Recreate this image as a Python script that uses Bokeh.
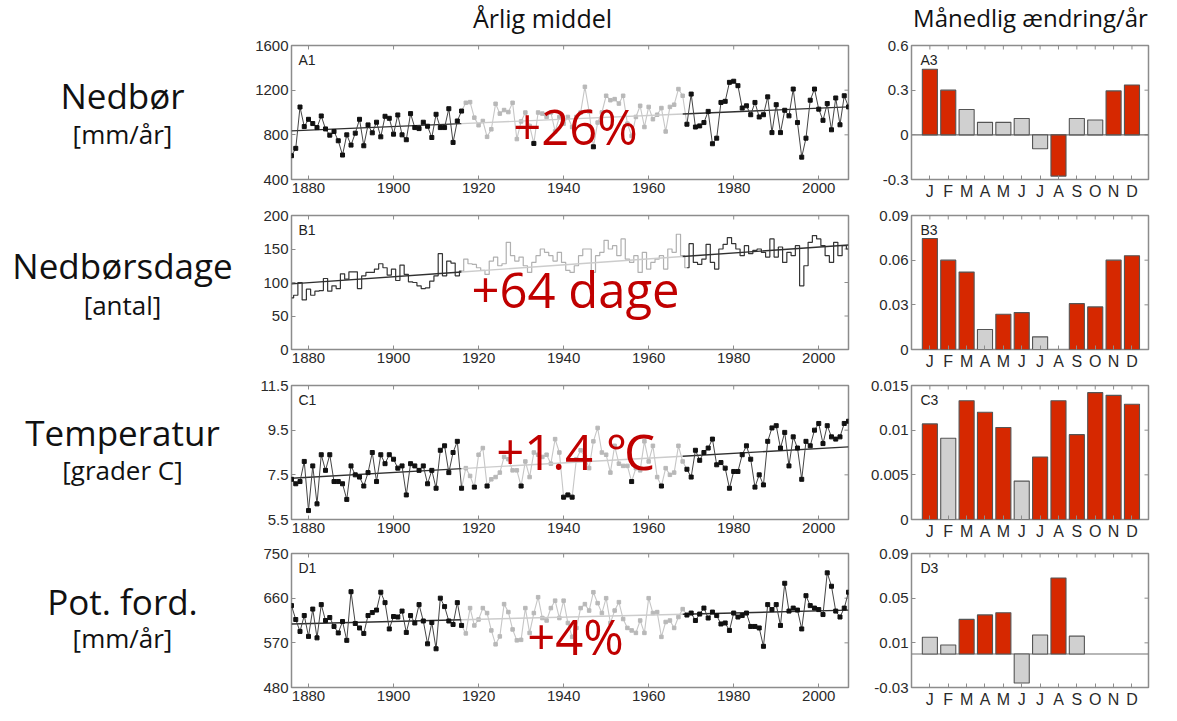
import math
from bokeh.plotting import figure
from bokeh.layouts import column, row
from bokeh.models import Label, FixedTicker, Range1d, ColumnDataSource
from bokeh.embed import file_html
from bokeh.resources import INLINE
from bokeh.core.properties import value

# ---------------- data ----------------
YEARS = list(range(1876, 2008))
END_FIRST = 1916   # last year of first (black) period
END_GREY = 1968    # last year of grey period

# A1 precipitation, mm/yr
PRECIP = [613, 679, 1049, 874, 939, 901, 865, 969, 853, 797, 830, 747, 619, 800, 708, 815, 939, 702, 889, 818,
          913, 782, 966, 948, 806, 978, 800, 756, 990, 865, 856, 913, 877, 776, 984, 865, 865, 1034, 732, 924, 1013,
          1087, 1093, 954, 886, 924, 782, 850, 1078, 990, 1022, 1004, 1087, 762, 920, 1000, 880, 723, 1000, 990, 960,
          1000, 830, 960, 900, 960, 870, 960, 1000, 1230, 1010, 693, 910, 1000, 1150, 1110, 1120, 1080, 1150, 900, 790,
          960, 1060, 870, 1050, 940, 980, 1040, 830, 1050, 1070, 1210, 1150,
          895, 1165, 870, 880, 910, 1010, 720, 770, 1090, 1100, 1270, 1280, 1240, 1040, 1060, 980, 1090, 960, 980, 1140,
          820, 1070, 820, 1020, 970, 1210, 910, 600, 770, 1110, 1210, 1030, 930, 1080, 845, 1130, 890, 1150, 1050]
# B1 precipitation days
RAIN_DAYS = [77, 81, 100, 74, 90, 81, 87, 88, 106, 87, 95, 91, 113, 105, 116, 116, 91, 110, 115, 115,
             120, 128, 122, 111, 120, 103, 126, 112, 101, 100, 95, 91, 92, 102, 110, 143, 110, 132, 129, 110, 117,
             135, 128, 127, 122, 118, 112, 132, 138, 125, 128, 160, 140, 132, 138, 125, 115, 130, 140, 150, 145,
             140, 132, 145, 130, 118, 115, 125, 140, 150, 150, 115, 140, 145, 163, 150, 155, 140, 165, 135, 130,
             140, 115, 145, 120, 130, 135, 140, 120, 150, 145, 172, 140,
             122, 158, 130, 127, 135, 157, 130, 120, 150, 157, 167, 158, 150, 140, 155, 143, 148, 150, 145, 138,
             165, 138, 153, 130, 145, 140, 155, 95, 125, 160, 170, 165, 155, 140, 130, 160, 140, 155, 150]
# C1 temperature, deg C
TEMP = [7.3, 7.1, 7.2, 8.1, 5.9, 7.9, 6.2, 8.4, 7.7, 8.4, 7.2, 7.2, 7.1, 6.4, 7.9, 7.5, 7.4, 7.0, 7.6, 8.5,
        7.2, 8.4, 8.0, 8.4, 8.2, 7.8, 7.9, 6.6, 8.0, 7.9, 7.7, 7.9, 7.1, 7.7, 6.9, 8.6, 8.8, 7.6, 8.5, 9.0, 6.9,
        7.8, 7.45, 6.95, 8.4, 8.7, 7.0, 7.3, 7.4, 7.6, 8.3, 8.2, 7.7, 7.7, 7.0, 8.1, 7.4, 8.5, 8.4, 8.3, 8.4,
        8.0, 9.1, 8.5, 6.5, 6.6, 6.5, 8.2, 8.6, 8.3, 7.8, 9.0, 9.6, 8.5, 8.4, 7.6, 8.8, 8.0, 7.9, 7.9, 7.2,
        7.8, 7.7, 9.0, 8.1, 8.8, 7.4, 7.0, 7.8, 7.5, 7.6, 8.8, 8.1,
        7.75, 7.4, 8.6, 8.15, 8.5, 8.7, 9.1, 7.95, 8.05, 7.8, 6.9, 7.65, 7.65, 8.4, 8.8, 8.2, 6.95, 7.5, 7.05, 9.0,
        9.6, 9.7, 8.7, 9.4, 7.9, 9.2, 8.7, 7.3, 9.0, 8.8, 9.5, 9.8, 8.9, 9.7, 9.2, 9.1, 9.2, 9.8, 9.9]
# D1 potential evaporation, mm/yr
POT_EVAP = [645, 617, 593, 625, 583, 638, 580, 647, 615, 621, 603, 590, 613, 575, 673, 609, 600, 589, 625, 631,
            636, 672, 651, 598, 623, 622, 634, 591, 625, 610, 647, 614, 568, 611, 558, 660, 643, 614, 607, 651, 605,
            589, 640, 605, 617, 640, 630, 595, 567, 583, 648, 632, 597, 575, 576, 640, 590, 630, 662, 620, 615,
            640, 655, 620, 655, 610, 582, 600, 640, 648, 635, 672, 650, 630, 660, 610, 635, 652, 618, 600, 595,
            590, 615, 590, 660, 630, 632, 582, 612, 615, 600, 622, 638,
            626, 630, 615, 628, 640, 620, 632, 625, 608, 610, 595, 630, 622, 625, 630, 603, 603, 600, 563, 647,
            637, 647, 605, 690, 634, 640, 636, 598, 665, 645, 640, 637, 627, 711, 684, 634, 622, 640, 672]

# extreme years drawn black inside the grey period
HIGHLIGHT_A = [1933, 1947]
HIGHLIGHT_B = []
HIGHLIGHT_C = [1919, 1922, 1930, 1940, 1941, 1942, 1956, 1963]
HIGHLIGHT_D = []

# linear trend (value at 1876, value at 2007)
TREND_A = [835, 1050]
TREND_B = [98, 156]
TREND_C = [7.35, 8.75]
TREND_D = [608, 636]

CHANGE_TEXT = ["+26%", "+64 dage", "+1.4 \u2103", "+4%"]

NAN = float("nan")
MONTHS = ["J", "F", "M", "A", "M", "J", "J", "A", "S", "O", "N", "D"]
MONTH_POS = [1, 2, 3, 4, 5, 6, 7, 8, 9, 10, 11, 12]
MON_A = [0.44, 0.30, 0.17, 0.084, 0.084, 0.11, -0.093, -0.277, 0.11, 0.10, 0.295, 0.335]
SIG_A = [1, 1, 0, 0, 0, 0, 0, 1, 0, 0, 1, 1]
MON_B = [0.0746, 0.060, 0.052, 0.0134, 0.0237, 0.0248, 0.0085, NAN, 0.0308, 0.0286, 0.060, 0.063]
SIG_B = [1, 1, 1, 0, 1, 1, 0, 0, 1, 1, 1, 1]
MON_C = [0.0107, 0.0091, 0.0133, 0.0120, 0.0103, 0.0043, 0.0070, 0.0133, 0.0095, 0.0142, 0.0139, 0.0129]
SIG_C = [1, 0, 1, 1, 1, 0, 1, 1, 1, 1, 1, 1]
MON_D = [0.015, 0.008, 0.031, 0.035, 0.037, -0.026, 0.017, 0.068, 0.016, NAN, NAN, NAN]
SIG_D = [0, 0, 1, 1, 1, 0, 0, 1, 0, 0, 0, 0]

ROW_NAMES = ["Nedbør", "Nedbørsdage", "Temperatur", "Pot. ford."]
ROW_UNITS = ["[mm/år]", "[antal]", "[grader C]", "[mm/år]"]
COL_TITLES = ["Årlig middel", "Månedlig ændring/år"]
TS_TAGS = ["A1", "B1", "C1", "D1"]
MON_TAGS = ["A3", "B3", "C3", "D3"]

YEAR_TICKS = [1880, 1900, 1920, 1940, 1960, 1980, 2000]
TS_YTICKS = [[400, 800, 1200, 1600], [0, 50, 100, 150, 200], [5.5, 7.5, 9.5, 11.5], [480, 570, 660, 750]]
TS_YLABELS = [["400", "800", "1200", "1600"], ["0", "50", "100", "150", "200"],
              ["5.5", "7.5", "9.5", "11.5"], ["480", "570", "660", "750"]]
MON_YTICKS = [[-0.3, 0.0, 0.3, 0.6], [0.0, 0.03, 0.06, 0.09], [0.0, 0.005, 0.01, 0.015], [-0.03, 0.01, 0.05, 0.09]]
MON_YLABELS = [["-0.3", "0", "0.3", "0.6"], ["0", "0.03", "0.06", "0.09"],
               ["0", "0.005", "0.01", "0.015"], ["-0.03", "0.01", "0.05", "0.09"]]

# ---------------- style ----------------
FRAME = "#8c8c8c"
TICK_FONT = "Liberation Sans"
LABEL_FONT = "Open Sans"
RED_TEXT = "#C00000"
BAR_RED = "#D62800"
BAR_GREY = "#D0D0D0"

TITLE_W = 1161
LABEL_W = 240
TITLE_H = 35
ROW_H = 170


def style_axis(ax, ticker, labels, size="15px"):
    ax.ticker = FixedTicker(ticks=ticker)
    ax.axis_line_color = None
    ax.major_tick_in = 4
    ax.major_tick_out = 0
    ax.major_tick_line_color = FRAME
    ax.minor_tick_line_color = None
    ax.major_label_text_font = TICK_FONT
    ax.major_label_text_font_size = size
    ax.major_label_text_color = "#2a2a2a"
    ax.major_label_standoff = 3
    ax.major_label_overrides = dict(zip(ticker, labels))


def frame_ticks(p, xt, yt, xmax, ymax):
    # inward tick marks on the top and right frame edges (half of each dash is clipped by the frame)
    p.scatter(x=xt, y=[ymax] * len(xt), marker="dash", size=8, angle=math.pi / 2,
              line_color=FRAME, line_width=1)
    p.scatter(x=[xmax] * len(yt), y=yt, marker="dash", size=8, line_color=FRAME, line_width=1)


def make_ts(i, vals, hl, trend, step, last):
    yt = TS_YTICKS[i]
    ylo, yhi = yt[0], yt[-1]
    p = figure(frame_width=557, frame_height=134, x_range=Range1d(1876, 2007), y_range=Range1d(ylo, yhi),
               min_border_left=51, min_border_right=10, min_border_top=8 if last else 10,
               min_border_bottom=18 if last else 26,
               output_backend="svg", toolbar_location=None,
               outline_line_color=FRAME, outline_line_width=1.5)
    p.grid.visible = False
    style_axis(p.xaxis[0], YEAR_TICKS, [str(y) for y in YEAR_TICKS])
    style_axis(p.yaxis[0], yt, TS_YLABELS[i])
    frame_ticks(p, YEAR_TICKS, yt, 2007, yhi)

    i1 = YEARS.index(END_FIRST)
    i2 = YEARS.index(END_GREY) + 1
    x1, y1 = YEARS[:i1 + 1], vals[:i1 + 1]
    xg, yg = YEARS[i1:i2 + 1], vals[i1:i2 + 1]
    x2, y2 = YEARS[i2:], vals[i2:]

    def tv(yr):
        return trend[0] + (trend[1] - trend[0]) * (yr - YEARS[0]) / (YEARS[-1] - YEARS[0])

    if step:
        p.step(xg, yg, mode="center", line_color="#b0b0b0", line_width=1.2)
        p.step(x1, y1, mode="center", line_color="#353535", line_width=1.2)
        p.step(x2, y2, mode="center", line_color="#353535", line_width=1.2)
    else:
        p.line(xg, yg, line_color="#c6c6c6", line_width=1.1)
        p.scatter(YEARS[i1 + 1:i2], vals[i1 + 1:i2], marker="square", size=3.5,
                  fill_color="#b8b8b8", line_color="#b8b8b8")

    p.line([YEARS[0], END_FIRST], [tv(YEARS[0]), tv(END_FIRST)], line_color="#303030", line_width=1.4)
    p.line([END_FIRST, END_GREY], [tv(END_FIRST), tv(END_GREY)], line_color="#cccccc", line_width=1.4)
    p.line([END_GREY, YEARS[-1]], [tv(END_GREY), tv(YEARS[-1])], line_color="#303030", line_width=1.4)

    if not step:
        for xs, ys in ((x1, y1), (x2, y2)):
            p.line(xs, ys, line_color="#454545", line_width=1.0)
            p.scatter(xs, ys, marker="square", size=4, fill_color="#111111", line_color="#111111")
        hy = [vals[YEARS.index(y)] for y in hl]
        for a, b in zip(hl[:-1], hl[1:]):
            if b - a == 1:
                p.line([a, b], [vals[YEARS.index(a)], vals[YEARS.index(b)]], line_color="#454545", line_width=1.0)
        if hl:
            p.scatter(hl, hy, marker="square", size=4, fill_color="#111111", line_color="#111111")

    p.add_layout(Label(x=YEARS[0], y=yhi, x_offset=7, y_offset=-6, text=TS_TAGS[i], text_baseline="top",
                       text_font=TICK_FONT, text_font_size="14px", text_color="#222222"))
    fracs = [0.40, 0.45, 0.51, 0.385]
    p.add_layout(Label(x=1942.8, y=ylo + fracs[i] * (yhi - ylo), text=CHANGE_TEXT[i], text_align="center",
                       text_baseline="middle", text_font=LABEL_FONT, text_font_size="49px",
                       text_color=RED_TEXT))
    return p


def make_bars(i, vals, sig, last):
    yt = MON_YTICKS[i]
    ylo, yhi = yt[0], yt[-1]
    p = figure(frame_width=237, frame_height=134, x_range=Range1d(0, 12.9), y_range=Range1d(ylo, yhi),
               min_border_left=53, min_border_right=5, min_border_top=8 if last else 10,
               min_border_bottom=18 if last else 26,
               output_backend="svg", toolbar_location=None,
               outline_line_color=FRAME, outline_line_width=1.5)
    p.grid.visible = False
    style_axis(p.xaxis[0], MONTH_POS, MONTHS, size="16px")
    style_axis(p.yaxis[0], yt, MON_YLABELS[i])
    frame_ticks(p, MONTH_POS, yt, 12.9, yhi)
    if ylo < 0:
        p.line([0, 12.9], [0, 0], line_color="#707070", line_width=1.2)
    src = ColumnDataSource(dict(x=MONTH_POS, top=vals,
                                fill=[BAR_RED if s else BAR_GREY for s in sig]))
    p.vbar(x="x", top="top", bottom=0, width=0.82, fill_color="fill", line_color="#555555",
           line_width=1.1, source=src)
    p.add_layout(Label(x=0, y=yhi, x_offset=9, y_offset=-6, text=MON_TAGS[i], text_baseline="top",
                       text_font=TICK_FONT, text_font_size="14px", text_color="#222222"))
    return p


def blank(w, h):
    p = figure(width=w, height=h, x_range=Range1d(0, w), y_range=Range1d(0, h),
               x_axis_location=None, y_axis_location=None, min_border=0,
               output_backend="svg", toolbar_location=None, outline_line_color=None)
    p.grid.visible = False
    return p


title = blank(TITLE_W, TITLE_H)
title.text(x=[542], y=[TITLE_H - 17], text=[COL_TITLES[0]], text_align="center",
           text_baseline="middle", text_font=value(LABEL_FONT), text_font_size="25px", text_color="#111111")
title.text(x=[1030], y=[TITLE_H - 17], text=[COL_TITLES[1]], text_align="center",
           text_baseline="middle", text_font=value(LABEL_FONT), text_font_size="24px", text_color="#111111")

SERIES = [PRECIP, RAIN_DAYS, TEMP, POT_EVAP]
HLS = [HIGHLIGHT_A, HIGHLIGHT_B, HIGHLIGHT_C, HIGHLIGHT_D]
TRENDS = [TREND_A, TREND_B, TREND_C, TREND_D]
MONS = [MON_A, MON_B, MON_C, MON_D]
SIGS = [SIG_A, SIG_B, SIG_C, SIG_D]
NAME_Y = [64, 64, 60, 59]
UNIT_Y = [112, 114, 107, 105]

rows = [title]
for i in range(4):
    last = i == 3
    h = 8 + 134 + 18 if last else ROW_H
    lab = blank(LABEL_W, h)
    lab.text(x=[122], y=[h - NAME_Y[i]], text=[ROW_NAMES[i]], text_align="center", text_baseline="middle",
             text_font=value(LABEL_FONT), text_font_size="35px", text_color="#111111")
    lab.text(x=[122], y=[h - UNIT_Y[i]], text=[ROW_UNITS[i]], text_align="center", text_baseline="middle",
             text_font=value(LABEL_FONT), text_font_size="26px", text_color="#111111")
    ts = make_ts(i, SERIES[i], HLS[i], TRENDS[i], step=(i == 1), last=last)
    bars = make_bars(i, MONS[i], SIGS[i], last)
    rows.append(row(lab, ts, bars))

layout = column(*rows)
open("out.html", "w").write(file_html(layout, INLINE, title="Klima"))
